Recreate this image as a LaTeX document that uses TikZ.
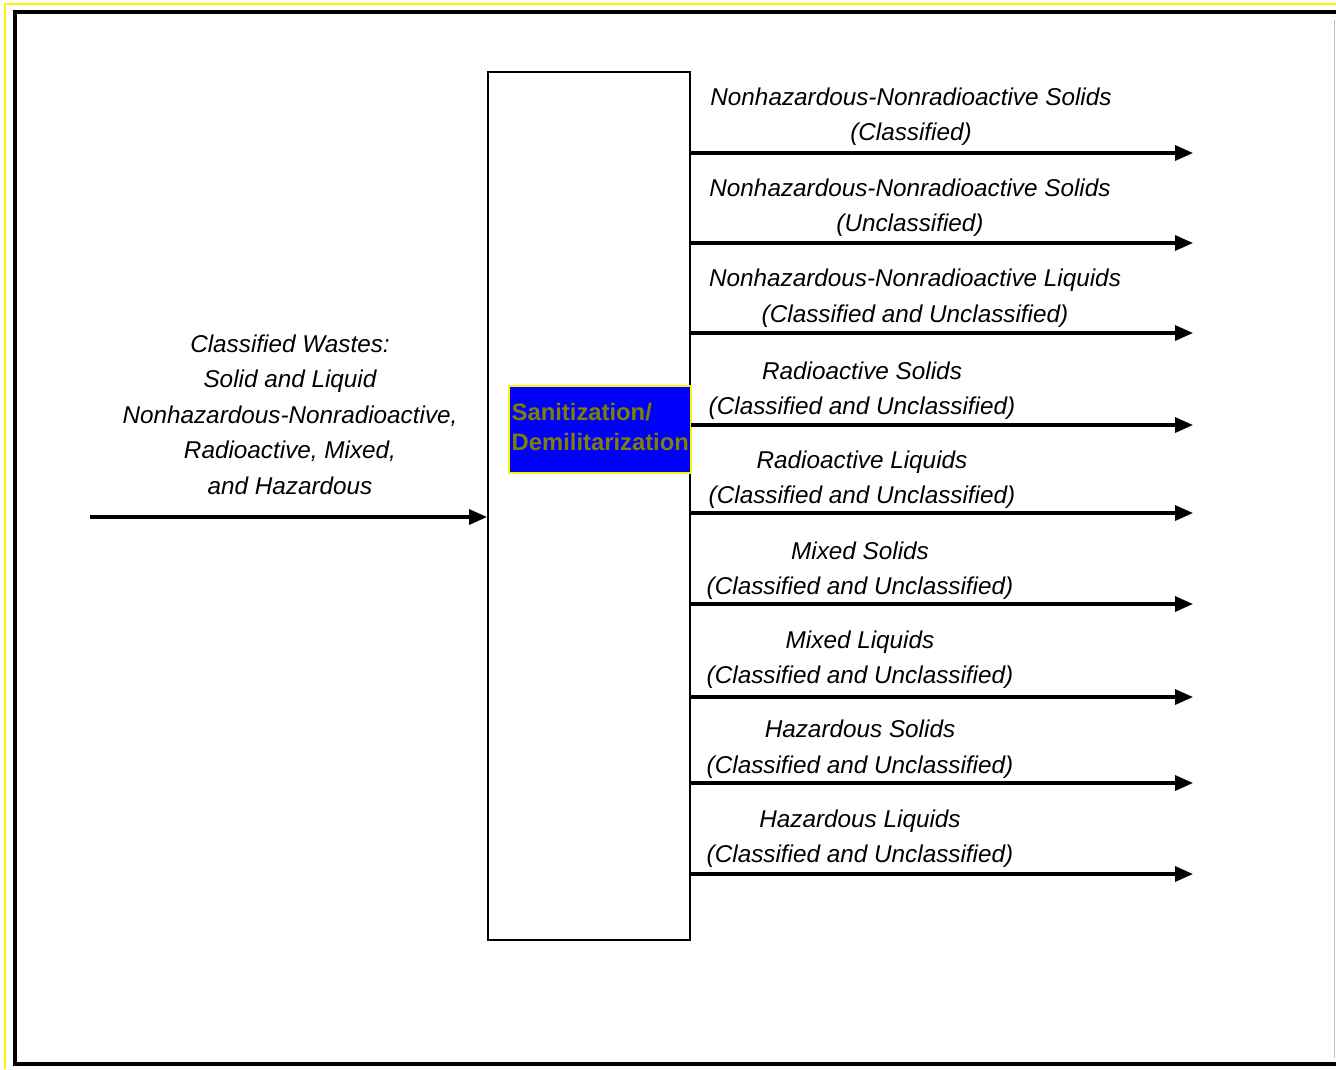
\documentclass[tikz,border=0pt]{standalone}
\usepackage{fontspec}
\setmainfont{Liberation Sans}
\usetikzlibrary{arrows.meta}
\definecolor{olivetext}{RGB}{128,128,0}
\begin{document}
\begin{tikzpicture}[x=0.5pt,y=-0.5pt,
  lbl/.style={font=\fontsize{12.15}{17.75}\selectfont\itshape, align=center, inner sep=0pt},
  flow/.style={line width=1.6pt, -{Triangle[length=9pt,width=7.5pt]}},
  procbox/.style={draw, line width=1pt, minimum width=101pt, minimum height=434pt, inner sep=0pt},
  bluebox/.style={draw=yellow, fill=blue, line width=0.7pt, minimum width=91pt, minimum height=43.5pt, inner sep=0pt},
  bluetext/.style={align=left, inner sep=0pt, text=olivetext, font=\fontsize{11.9}{15}\selectfont\bfseries},
]
\useasboundingbox (0,0) rectangle (1336,1069);
\fill[white] (0,0) rectangle (1336,1069);
% outer frames
\draw[yellow, line width=1.3pt] (5,1069) -- (5,4) -- (1336,4);
\draw[line width=2pt] (1336,12) -- (15,12) -- (15,1064) -- (1336,1064);
\draw[black!25, line width=0.5pt] (1334.5,20) -- (1334.5,1058);

% process box
\node[procbox] (proc) at (589,506) {};
\node[bluebox] (sd) at (600,429.5) {};
\node[bluetext, anchor=west] (sdt) at ([xshift=1.5pt,yshift=1.5pt]sd.west) {Sanitization/\\Demilitarization};

% input
\coordinate (in) at (90,517);
\draw[flow] (in) -- (proc.west |- in);
\node[lbl] (inl) at (290,414.5) {Classified Wastes:\\Solid and Liquid\\Nonhazardous-Nonradioactive,\\Radioactive, Mixed,\\and Hazardous};

% outputs
\foreach \i/\y in {1/153,2/243,3/333,4/425,5/513,6/604,7/697,8/783,9/874}{
  \coordinate (o\i) at (1193,\y);
  \draw[flow] (proc.east |- o\i) -- (o\i);
}
\node[lbl] (l1) at (911,116.5) {Nonhazardous-Nonradioactive Solids\\(Classified)};
\node[lbl] (l2) at (910,207.5) {Nonhazardous-Nonradioactive Solids\\(Unclassified)};
\node[lbl] (l3) at (915,298) {Nonhazardous-Nonradioactive Liquids\\(Classified and Unclassified)};
\node[lbl] (l4) at (862,390.5) {Radioactive Solids\\(Classified and Unclassified)};
\node[lbl] (l5) at (862,479.5) {Radioactive Liquids\\(Classified and Unclassified)};
\node[lbl] (l6) at (860,570.5) {Mixed Solids\\(Classified and Unclassified)};
\node[lbl] (l7) at (860,659.5) {Mixed Liquids\\(Classified and Unclassified)};
\node[lbl] (l8) at (860,749) {Hazardous Solids\\(Classified and Unclassified)};
\node[lbl] (l9) at (860,838.5) {Hazardous Liquids\\(Classified and Unclassified)};
\end{tikzpicture}
\end{document}
